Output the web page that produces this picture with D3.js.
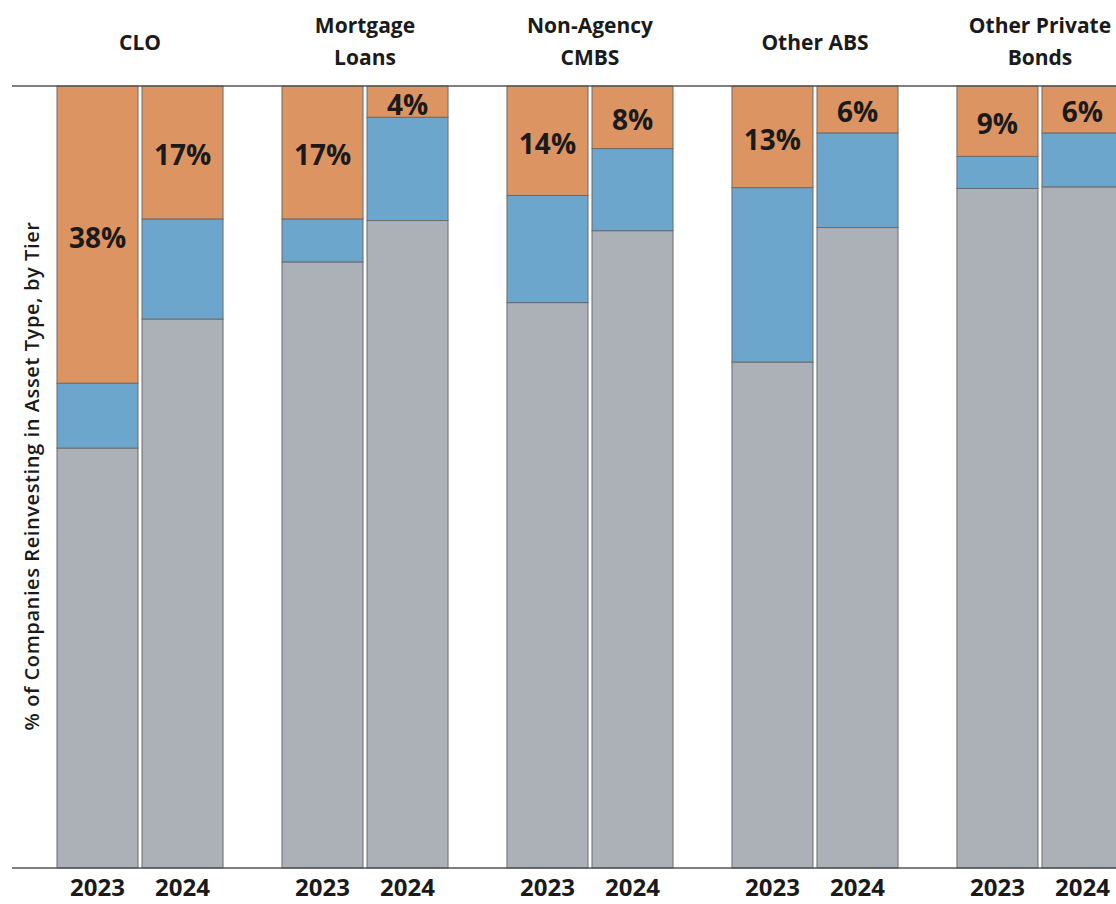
<!DOCTYPE html>
<html>
<head>
<meta charset="utf-8">
<script src="https://cdn.jsdelivr.net/npm/d3@7"></script>
<style>
  body { margin: 0; background: #fff; }
  svg text { font-family: "Open Sans", "Noto Sans", sans-serif; fill: #1a1a1a; }
</style>
</head>
<body>
<div id="chart"></div>
<script>
// data (percent of companies, per tier)
const groups = ["CLO", "Mortgage Loans", "Non-Agency CMBS", "Other ABS", "Other Private Bonds"];
const groupLines = [["CLO"], ["Mortgage", "Loans"], ["Non-Agency", "CMBS"], ["Other ABS"], ["Other Private", "Bonds"]];
const years = ["2023", "2024"];
// one value per group per year: [2023, 2024]
const tierTop = [[38, 17], [17, 4], [14, 8], [13, 6], [9, 6]];
const tierMid = [[8.3, 12.8], [5.5, 13.2], [13.7, 10.5], [22.3, 12.1], [4.1, 6.9]];
const tierLow = [[53.7, 70.2], [77.5, 82.8], [72.3, 81.5], [64.7, 81.9], [86.9, 87.1]];

const width = 1116, height = 904;
const colors = { low: "#acb0b7", mid: "#6ca6cc", top: "#dc9462" };

const svg = d3.select("#chart").append("svg")
  .attr("width", width)
  .attr("height", height);

const x0 = d3.scaleBand()
  .domain(groups)
  .range([57, 1123])
  .paddingInner(0.262)
  .paddingOuter(0);

const x1 = d3.scaleBand()
  .domain(years)
  .range([0, x0.bandwidth()])
  .paddingInner(0.047);

const y = d3.scaleLinear()
  .domain([0, 100])
  .range([868, 86]);

// flatten into rows for drawing
let rows = [];
groups.forEach(function(g, gi) {
  years.forEach(function(yr, yi) {
    let low = tierLow[gi][yi], mid = tierMid[gi][yi], top = tierTop[gi][yi];
    rows.push({ group: g, year: yr, tier: "low", y0: 0, y1: low });
    rows.push({ group: g, year: yr, tier: "mid", y0: low, y1: low + mid });
    rows.push({ group: g, year: yr, tier: "top", y0: low + mid, y1: 100, label: top + "%" });
  });
});

svg.append("g").selectAll("rect")
  .data(rows)
  .join("rect")
  .attr("x", d => x0(d.group) + x1(d.year))
  .attr("width", x1.bandwidth())
  .attr("y", d => y(d.y1))
  .attr("height", d => y(d.y0) - y(d.y1))
  .attr("fill", d => colors[d.tier])
  .attr("stroke", "#6b6b6b")
  .attr("stroke-width", 1);

// labels for top tier
svg.append("g").selectAll("text")
  .data(rows.filter(d => d.tier === "top"))
  .join("text")
  .attr("x", d => x0(d.group) + x1(d.year) + x1.bandwidth() / 2)
  .attr("y", d => (y(d.y0) + y(d.y1)) / 2 + 2)
  .attr("text-anchor", "middle")
  .attr("dominant-baseline", "central")
  .attr("font-size", 28)
  .attr("font-weight", 700)
  .text(d => d.label);

// top and bottom rules
svg.append("line").attr("x1", 12).attr("x2", width).attr("y1", y(100)).attr("y2", y(100))
  .attr("stroke", "#555").attr("stroke-width", 1.5);
svg.append("line").attr("x1", 12).attr("x2", width).attr("y1", y(0)).attr("y2", y(0))
  .attr("stroke", "#555").attr("stroke-width", 1.5);

// group headers
groups.forEach(function(g, gi) {
  let lines = groupLines[gi];
  let t = svg.append("text")
    .attr("x", x0(g) + x0.bandwidth() / 2)
    .attr("text-anchor", "middle")
    .attr("font-size", 21)
    .attr("font-weight", 700);
  let startY = lines.length === 1 ? 50 : 33;
  lines.forEach(function(l, li) {
    t.append("tspan")
      .attr("x", x0(g) + x0.bandwidth() / 2)
      .attr("y", startY + li * 32)
      .text(l);
  });
});

// year labels under each bar
groups.forEach(function(g) {
  svg.append("g").selectAll("text")
    .data(years)
    .join("text")
    .attr("x", d => x0(g) + x1(d) + x1.bandwidth() / 2)
    .attr("y", 896)
    .attr("text-anchor", "middle")
    .attr("font-size", 24)
    .attr("font-weight", 700)
    .text(d => d);
});

// y axis title
svg.append("text")
  .attr("transform", "translate(31," + 476 + ") rotate(-90)")
  .attr("text-anchor", "middle")
  .attr("dominant-baseline", "central")
  .attr("font-size", 20)
  .attr("font-weight", 600)
  .attr("letter-spacing", 0.6)
  .text("% of Companies Reinvesting in Asset Type, by Tier");
</script>
</body>
</html>
